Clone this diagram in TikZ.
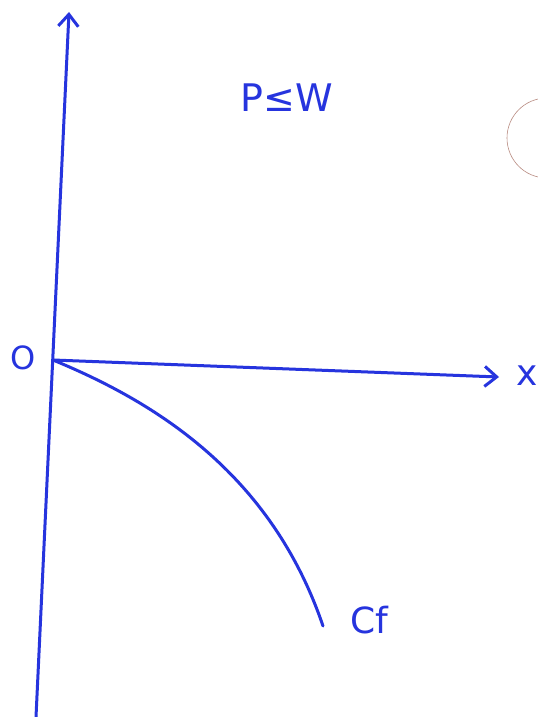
\documentclass[tikz,border=0pt]{standalone}
\usepackage{fontspec}
\setmainfont{DejaVu Sans}
\usetikzlibrary{arrows.meta}
\definecolor{pen}{RGB}{38,52,222}
\definecolor{ghost}{RGB}{185,140,130}
\tikzset{
  penline/.style={draw=pen, line width=1.5pt, line cap=round, line join=round},
  axisarrow/.style={-{Straight Barb[length=6pt,width=10pt,line width=1.5pt]}},
  lbl/.style={text=pen, inner sep=0pt}
}
\begin{document}
\begin{tikzpicture}[x=0.5pt,y=-0.5pt]
\useasboundingbox (0,0) rectangle (537,717);
\fill[white] (0,0) rectangle (537,717);
% coordinates
\coordinate (O) at (53,360);
\coordinate (ybot) at (36,717);
\coordinate (ytop) at (69,12);
\coordinate (xtip) at (499,377);
\coordinate (cend) at (323,626);
% axes
\draw[penline, axisarrow] (ybot) -- (ytop);
\draw[penline, axisarrow] (O) -- (xtip);
% curve Cf
\draw[penline] (O) .. controls (150,400) and (270,470) .. (cend);
% labels
\node[lbl, font=\fontsize{16}{16}\selectfont] (olabel) at (23,358) {O};
\node[lbl, font=\fontsize{18}{18}\selectfont] (xlabel) at (527,376) {x};
\node[lbl, font=\fontsize{18}{18}\selectfont] (cflabel) at (369,620) {Cf};
\node[lbl, font=\fontsize{19}{19}\selectfont] (cond) at (287,98) {P≤W};
% faint artefact arc
\draw[ghost, line width=0.3pt] (547,98) arc[start angle=-90, end angle=-270, radius=40];
\end{tikzpicture}
\end{document}
